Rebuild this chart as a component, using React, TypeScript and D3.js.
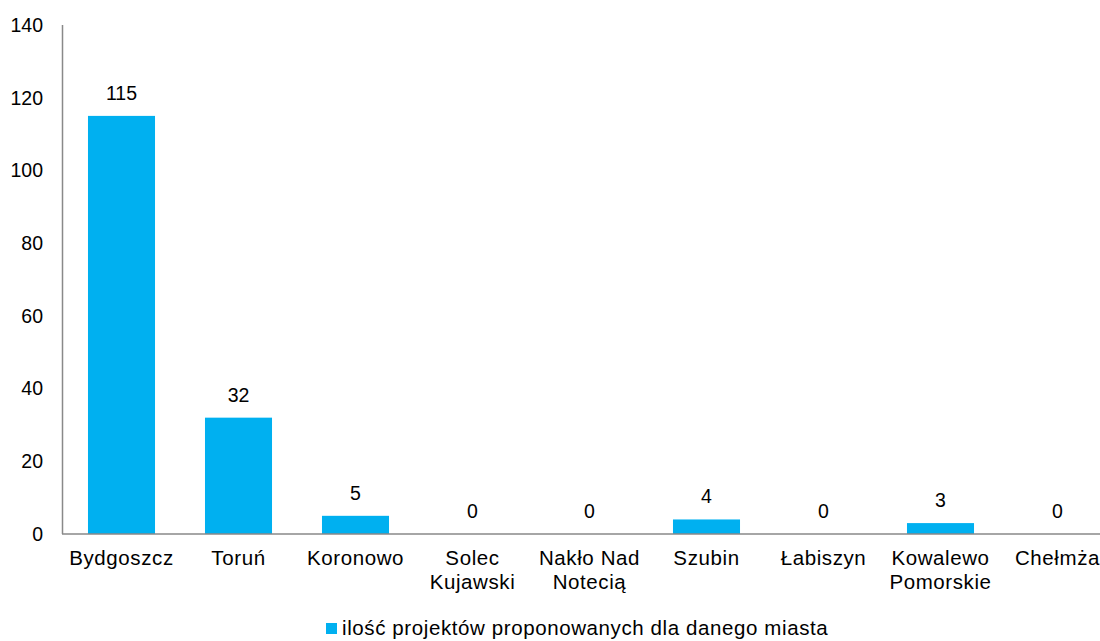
import * as d3 from "d3";

const cities = [
	"Bydgoszcz",
	"Toruń",
	"Koronowo",
	"Solec Kujawski",
	"Nakło Nad Notecią",
	"Szubin",
	"Łabiszyn",
	"Kowalewo Pomorskie",
	"Chełmża",
];
// labels split into lines as in the reference
const cityLines = [
	["Bydgoszcz"],
	["Toruń"],
	["Koronowo"],
	["Solec", "Kujawski"],
	["Nakło Nad", "Notecią"],
	["Szubin"],
	["Łabiszyn"],
	["Kowalewo", "Pomorskie"],
	["Chełmża"],
];
const projectCounts = [115, 32, 5, 0, 0, 4, 0, 3, 0];
const yTicks = [0, 20, 40, 60, 80, 100, 120, 140];
const seriesName = "ilość projektów proponowanych dla danego miasta";

const W = 1100;
const H = 641;
const FONT = "'Liberation Sans', Arial, sans-serif";
const BAR = "#00B0F0";
const AXIS = "#898989";

export default function App() {
	const x = d3
		.scaleBand<string>()
		.domain(cities)
		.range([63, 1116])
		.paddingInner(0.427)
		.paddingOuter(0.2135);
	const y = d3.scaleLinear().domain([0, 140]).range([534, 25]);
	const fs = 19.5; // digits
	const fsText = 20.5; // words
	const ls = 0.6;

	return (
		<svg
			width={W}
			height={H}
			style={{ position: "absolute", left: 0, top: 0, background: "#fff" }}
			fontFamily={FONT}
		>
			{/* y axis labels */}
			{yTicks.map((t) => (
				<text
					key={t}
					x={43}
					y={y(t)}
					dy="0.35em"
					textAnchor="end"
					fontSize={fs}
					fill="#000"
				>
					{t}
				</text>
			))}

			{/* bars */}
			{cities.map((c, i) => (
				<rect
					key={c}
					x={x(c)}
					y={y(projectCounts[i])}
					width={x.bandwidth()}
					height={y(0) - y(projectCounts[i])}
					fill={BAR}
				/>
			))}

			{/* axes */}
			<line x1={62.5} x2={62.5} y1={25} y2={534} stroke={AXIS} strokeWidth={1.5} />
			<line x1={62} x2={W} y1={534} y2={534} stroke={AXIS} strokeWidth={1.5} />

			{/* value labels */}
			{cities.map((c, i) => (
				<text
					key={c}
					x={(x(c) ?? 0) + x.bandwidth() / 2}
					y={y(projectCounts[i]) - 16}
					textAnchor="middle"
					fontSize={fs}
					fill="#000"
				>
					{projectCounts[i]}
				</text>
			))}

			{/* category labels */}
			{cities.map((c, i) => (
				<text
					key={c}
					x={(x(c) ?? 0) + x.bandwidth() / 2}
					y={565}
					textAnchor="middle"
					fontSize={fsText}
					letterSpacing={ls}
					fill="#000"
				>
					{cityLines[i].map((ln, j) => (
						<tspan key={j} x={(x(c) ?? 0) + x.bandwidth() / 2} dy={j === 0 ? 0 : 24}>
							{ln}
						</tspan>
					))}
				</text>
			))}

			{/* legend */}
			<rect x={326} y={623} width={11} height={11} fill={BAR} />
			<text x={342} y={635} fontSize={fsText} letterSpacing={ls} fill="#000">
				{seriesName}
			</text>
		</svg>
	);
}
